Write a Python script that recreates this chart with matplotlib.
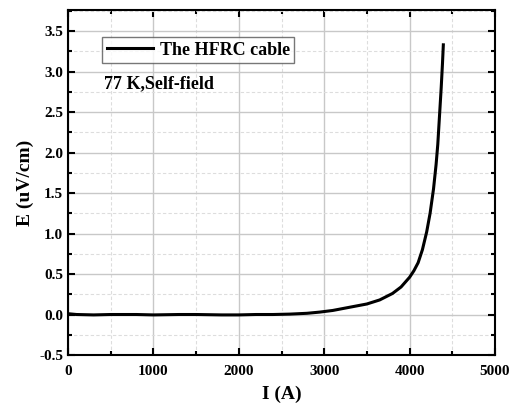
import matplotlib
matplotlib.use("Agg")
import matplotlib.pyplot as plt
from matplotlib.ticker import MultipleLocator

current_A = [0, 100, 300, 500, 800, 1000, 1300, 1500, 1800, 2000, 2200, 2400, 2600, 2800,
             2950, 3100, 3250, 3400, 3500, 3650, 3800, 3900, 4000, 4050, 4100, 4150,
             4200, 4240, 4280, 4310, 4330, 4350, 4370, 4385, 4395]
field_uV = [0.01, 0.0, -0.005, 0.0, 0.0, -0.005, 0.0, 0.0, -0.005, -0.005, 0.0, 0.0, 0.005, 0.015,
            0.03, 0.05, 0.08, 0.11, 0.13, 0.18, 0.26, 0.34, 0.46, 0.54, 0.64, 0.80,
            1.02, 1.25, 1.55, 1.85, 2.1, 2.45, 2.8, 3.1, 3.33]

plt.rcParams['font.family'] = ['Liberation Serif', 'DejaVu Serif']
plt.rcParams['font.weight'] = 'bold'

fig = plt.figure(figsize=(5.13, 4.05), dpi=100)
ax = fig.add_axes([68/513, 1-355/405, (495-68)/513, (355-10)/405])

ax.plot(current_A, field_uV, color='black', lw=2.2, label='The HFRC cable')

ax.set_xlim(0, 5000)
ax.set_ylim(-0.5, 3.76)
ax.xaxis.set_major_locator(MultipleLocator(1000))
ax.xaxis.set_minor_locator(MultipleLocator(500))
ax.yaxis.set_major_locator(MultipleLocator(0.5))
ax.yaxis.set_minor_locator(MultipleLocator(0.25))
ax.yaxis.set_major_formatter(matplotlib.ticker.FormatStrFormatter('%.1f'))

ax.grid(which='major', color='#c8c8c8', lw=1.0, ls='-')
ax.grid(which='minor', color='#dddddd', lw=0.8, ls=(0, (3, 2)))
ax.set_axisbelow(True)

ax.tick_params(which='both', direction='in', top=True, right=True, width=1.5, labelsize=11)
ax.tick_params(which='major', length=5)
ax.tick_params(which='minor', length=3)
ax.tick_params(axis='x', which='major', pad=7)
for lab in ax.get_xticklabels() + ax.get_yticklabels():
    lab.set_fontweight('bold')
for s in ax.spines.values():
    s.set_linewidth(1.5)

ax.set_xlabel('I (A)', fontsize=14, fontweight='bold')
ax.xaxis.set_label_coords(0.5, -0.088)
ax.set_ylabel('E (uV/cm)', fontsize=14, fontweight='bold', labelpad=4)

leg = ax.legend(loc='upper left', bbox_to_anchor=(34/427, (355-37)/345), fontsize=13, frameon=True,
                fancybox=False, edgecolor='#555555', handlelength=2.6, borderpad=0.25,
                borderaxespad=0, handletextpad=0.35, prop={'weight': 'bold', 'size': 13})
leg.get_frame().set_linewidth(1.0)

ax.text(0.085, 0.785, '77 K,Self-field', transform=ax.transAxes, fontsize=13,
        fontweight='bold', va='center', ha='left')

fig.savefig('out.png', dpi=100)
